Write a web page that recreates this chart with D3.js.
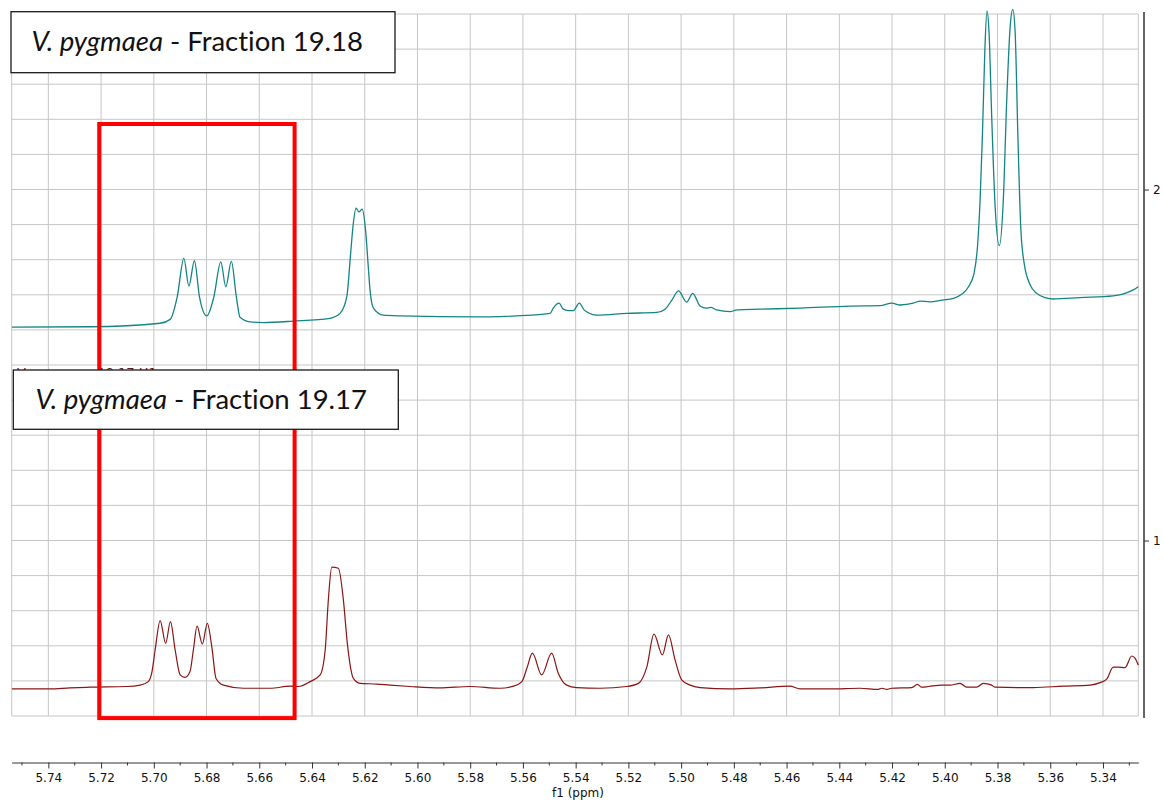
<!DOCTYPE html>
<head>
<meta charset="utf-8">
<title>V. pygmaea fractions</title>
<script src="https://cdn.jsdelivr.net/npm/d3@7"></script>
<style>
  body { margin: 0; background: #fff; }
  svg { display: block; }
  .lbl { font-variant-ligatures: none; font-feature-settings: "liga" 0; }
</style>
</head>
<body>
<div id="nmr"></div>
<script>

// axis ticks
var ppmTicks = [5.74, 5.72, 5.70, 5.68, 5.66, 5.64, 5.62, 5.60, 5.58, 5.56, 5.54,
                5.52, 5.50, 5.48, 5.46, 5.44, 5.42, 5.40, 5.38, 5.36, 5.34];
var intensityTicks = [1, 2];
var xDomain = [5.7539, 5.3266];
var yDomain = [0.5, 2.5];

// fraction 19.18 (upper trace)
var ppm1918 = [5.7538, 5.7242, 5.6976, 5.6938, 5.6911, 5.6886, 5.6867, 5.6846, 5.6827, 5.6799,
  5.6772, 5.6746, 5.6727, 5.6706, 5.6687, 5.6673, 5.6635, 5.6585, 5.6471, 5.6332,
  5.6294, 5.6268, 5.6254, 5.6244, 5.6233, 5.6222, 5.6210, 5.6197, 5.6187, 5.6180,
  5.6167, 5.6129, 5.6066, 5.5763, 5.5687, 5.5497, 5.5485, 5.5463, 5.5447, 5.5428,
  5.5409, 5.5386, 5.5368, 5.5352, 5.5320, 5.5206, 5.5092, 5.5061, 5.5035, 5.5010,
  5.4979, 5.4956, 5.4928, 5.4903, 5.4888, 5.4865, 5.4814, 5.4789, 5.4701, 5.4549,
  5.4359, 5.4245, 5.4201, 5.4170, 5.4119, 5.4094, 5.4056, 5.4011, 5.3967, 5.3935,
  5.3910, 5.3889, 5.3876, 5.3866, 5.3857, 5.3848, 5.3840, 5.3832, 5.3822, 5.3809,
  5.3793, 5.3778, 5.3765, 5.3752, 5.3742, 5.3733, 5.3723, 5.3712, 5.3699, 5.3676,
  5.3651, 5.3620, 5.3588, 5.3487, 5.3361, 5.3316, 5.3285, 5.3266];
var int1918 = [1.608, 1.609, 1.619, 1.630, 1.695, 1.804, 1.725, 1.797, 1.695, 1.640,
  1.695, 1.794, 1.723, 1.795, 1.695, 1.636, 1.623, 1.621, 1.625, 1.633,
  1.647, 1.695, 1.813, 1.899, 1.947, 1.936, 1.944, 1.885, 1.785, 1.714,
  1.662, 1.642, 1.640, 1.637, 1.638, 1.647, 1.662, 1.676, 1.659, 1.655,
  1.655, 1.676, 1.657, 1.649, 1.642, 1.647, 1.650, 1.659, 1.685, 1.711,
  1.679, 1.704, 1.668, 1.662, 1.664, 1.657, 1.652, 1.657, 1.659, 1.662,
  1.668, 1.669, 1.676, 1.671, 1.676, 1.682, 1.680, 1.685, 1.690, 1.702,
  1.723, 1.761, 1.837, 1.970, 2.161, 2.397, 2.509, 2.446, 2.207, 1.951,
  1.840, 1.970, 2.255, 2.464, 2.513, 2.446, 2.161, 1.894, 1.790, 1.728,
  1.704, 1.692, 1.688, 1.692, 1.697, 1.704, 1.714, 1.723];

// fraction 19.17 (lower trace)
var ppm1917 = [5.7538, 5.7394, 5.7318, 5.7242, 5.7103, 5.7052, 5.7021, 5.7008, 5.6995, 5.6976,
  5.6955, 5.6937, 5.6919, 5.6900, 5.6882, 5.6863, 5.6850, 5.6836, 5.6816, 5.6797,
  5.6780, 5.6764, 5.6736, 5.6660, 5.6559, 5.6483, 5.6452, 5.6407, 5.6369, 5.6350,
  5.6338, 5.6325, 5.6300, 5.6281, 5.6266, 5.6243, 5.6218, 5.6154, 5.6104, 5.6028,
  5.5914, 5.5801, 5.5687, 5.5636, 5.5604, 5.5585, 5.5564, 5.5529, 5.5491, 5.5466,
  5.5434, 5.5396, 5.5307, 5.5206, 5.5162, 5.5130, 5.5103, 5.5071, 5.5048, 5.5023,
  5.4998, 5.4966, 5.4928, 5.4814, 5.4701, 5.4587, 5.4549, 5.4435, 5.4321, 5.4252,
  5.4239, 5.4220, 5.4201, 5.4125, 5.4104, 5.4087, 5.4062, 5.4011, 5.3980, 5.3942,
  5.3917, 5.3879, 5.3854, 5.3822, 5.3809, 5.3714, 5.3664, 5.3550, 5.3449, 5.3411,
  5.3386, 5.3361, 5.3342, 5.3316, 5.3291, 5.3278, 5.3266];
var int1917 = [0.577, 0.577, 0.580, 0.582, 0.584, 0.588, 0.598, 0.622, 0.688, 0.772,
  0.707, 0.769, 0.688, 0.617, 0.610, 0.626, 0.688, 0.756, 0.705, 0.764,
  0.697, 0.607, 0.588, 0.579, 0.579, 0.585, 0.584, 0.598, 0.617, 0.688,
  0.831, 0.924, 0.921, 0.831, 0.707, 0.607, 0.593, 0.591, 0.588, 0.584,
  0.580, 0.584, 0.579, 0.585, 0.598, 0.636, 0.679, 0.617, 0.679, 0.622,
  0.588, 0.581, 0.579, 0.584, 0.593, 0.640, 0.733, 0.674, 0.731, 0.660,
  0.603, 0.588, 0.581, 0.577, 0.580, 0.585, 0.577, 0.577, 0.579, 0.576,
  0.579, 0.576, 0.579, 0.581, 0.590, 0.582, 0.584, 0.588, 0.588, 0.593,
  0.582, 0.582, 0.593, 0.588, 0.582, 0.581, 0.581, 0.585, 0.588, 0.595,
  0.605, 0.639, 0.639, 0.638, 0.671, 0.664, 0.645];

// labels and highlighted region
var species = "V. pygmaea";
var fractions = ["Fraction 19.18", "Fraction 19.17"];
var highlightPpm = [5.7207, 5.6466];
var highlightInt = [2.1866, 0.494];

var width = 1164, height = 803;

var svg = d3.select("#nmr")
  .append("svg")
    .attr("width", width)
    .attr("height", height);

var x = d3.scaleLinear()
  .domain(xDomain)
  .range([11.7, 1138.3]);

var y = d3.scaleLinear()
  .domain(yDomain)
  .range([716, 14]);

// grid
var grid = svg.append("g").attr("stroke", "#c6c6c6").attr("stroke-width", 1);
var vLines = [xDomain[0]].concat(ppmTicks).concat([xDomain[1]]);
grid.selectAll("line.v")
  .data(vLines)
  .enter()
  .append("line")
    .attr("x1", function(d) { return x(d); })
    .attr("x2", function(d) { return x(d); })
    .attr("y1", y(yDomain[1]))
    .attr("y2", y(yDomain[0]));
grid.selectAll("line.h")
  .data(d3.range(0, 21).map(function(i) { return 0.5 + i * 0.1; }))
  .enter()
  .append("line")
    .attr("x1", x(xDomain[0]))
    .attr("x2", x(xDomain[1]))
    .attr("y1", function(d) { return y(d); })
    .attr("y2", function(d) { return y(d); });

// bottom axis
var xAxis = svg.append("g")
  .attr("transform", "translate(0,762.5)")
  .call(d3.axisBottom(x).tickValues(ppmTicks).tickFormat(d3.format(".2f")).tickSize(6).tickSizeOuter(0));
xAxis.select(".domain").attr("stroke", "#333");
xAxis.selectAll(".tick line").attr("stroke", "#333");
xAxis.selectAll("text")
  .attr("font-family", "DejaVu Sans, Verdana, sans-serif")
  .attr("font-size", 12)
  .attr("fill", "#111")
  .attr("y", 11);

var minor = d3.range(0, 43).map(function(i) { return +(5.75 - i * 0.01).toFixed(2); })
  .filter(function(d) { return ppmTicks.indexOf(d) < 0; });
xAxis.selectAll("line.minor")
  .data(minor)
  .enter()
  .append("line")
    .attr("class", "minor")
    .attr("stroke", "#333")
    .attr("x1", function(d) { return x(d); })
    .attr("x2", function(d) { return x(d); })
    .attr("y1", 0)
    .attr("y2", 3);

svg.append("text")
  .attr("x", (x.range()[0] + x.range()[1]) / 2 + 3)
  .attr("y", 797)
  .attr("text-anchor", "middle")
  .attr("font-family", "DejaVu Sans, Verdana, sans-serif")
  .attr("font-size", 12)
  .attr("fill", "#111")
  .text("f1 (ppm)");

// right axis
var yAxis = svg.append("g")
  .attr("transform", "translate(1144,0)")
  .call(d3.axisRight(y).tickValues(intensityTicks).tickFormat(d3.format("d")).tickSize(5).tickSizeOuter(0));
yAxis.select(".domain").attr("stroke", "#333").attr("stroke-width", 1.5)
  .attr("d", "M0,12V718");
yAxis.selectAll(".tick line").attr("stroke", "#333");
yAxis.selectAll("text")
  .attr("font-family", "DejaVu Sans, Verdana, sans-serif")
  .attr("font-size", 12)
  .attr("fill", "#111")
  .attr("x", 9);

// spectra
var line = d3.line()
  .x(function(d) { return x(d[0]); })
  .y(function(d) { return y(d[1]); })
  .curve(d3.curveMonotoneX);

svg.append("path")
  .datum(d3.zip(ppm1918, int1918))
  .attr("fill", "none")
  .attr("stroke", "#138585")
  .attr("stroke-width", 1.3)
  .attr("d", line);

svg.append("path")
  .datum(d3.zip(ppm1917, int1917))
  .attr("fill", "none")
  .attr("stroke", "#8b1414")
  .attr("stroke-width", 1.2)
  .attr("d", line);

// hidden trace title peeking out from behind the lower label
svg.append("text")
  .attr("x", 17)
  .attr("y", 377)
  .attr("font-family", "DejaVu Sans, sans-serif")
  .attr("font-size", 13)
  .attr("fill", "#5a1a1a")
  .text("V. pygmaea 19.17 H1");

// highlighted region
svg.append("rect")
  .attr("x", x(highlightPpm[0]))
  .attr("y", y(highlightInt[0]))
  .attr("width", x(highlightPpm[1]) - x(highlightPpm[0]))
  .attr("height", y(highlightInt[1]) - y(highlightInt[0]))
  .attr("fill", "none")
  .attr("stroke", "#ff0000")
  .attr("stroke-width", 4);

// label boxes
var boxes = [
  {x: 11, y: 11.7, w: 384, h: 61, tx: 31.5, ty: 50.5},
  {x: 13.3, y: 370, w: 385, h: 59.3, tx: 35.5, ty: 408.5}
];
boxes.forEach(function(b, i) {
  svg.append("rect")
    .attr("x", b.x)
    .attr("y", b.y)
    .attr("width", b.w)
    .attr("height", b.h)
    .attr("fill", "#fff")
    .attr("stroke", "#1a1a1a")
    .attr("stroke-width", 1.3);
  var t = svg.append("text")
    .attr("class", "lbl")
    .attr("x", b.tx)
    .attr("y", b.ty)
    .attr("font-family", "Lato, 'Open Sans', sans-serif")
    .attr("font-size", 27.5)
    .attr("fill", "#111");
  t.append("tspan").attr("font-style", "italic").text(species);
  t.append("tspan").text(" - " + fractions[i]);
});

</script>
</body>
